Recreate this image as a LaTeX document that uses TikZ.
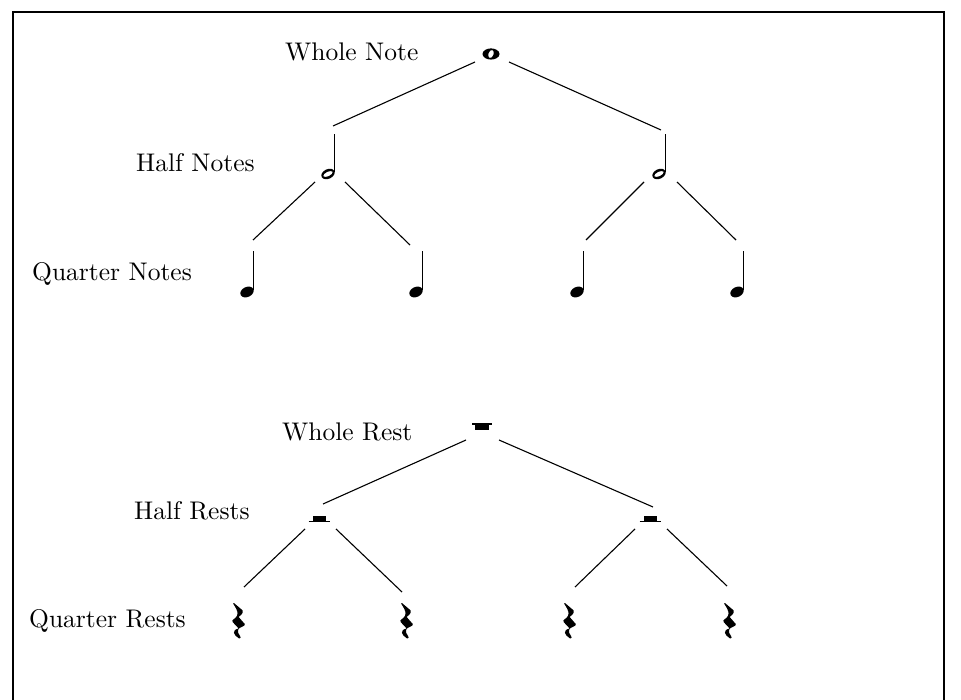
\documentclass[tikz,border=0pt]{standalone}
\usepackage{fontspec}
\newfontfamily\lblfont{lmroman10-regular.otf}
\begin{document}
\begin{tikzpicture}[x=1pt,y=-1pt,
  lbl/.style={anchor=base west,inner sep=0pt,font=\lblfont\fontsize{25.5}{30}\selectfont},
  branch/.style={line width=1.1pt},
  frame/.style={line width=2.8pt},
  stemline/.style={line width=1.3pt},
  wholenote/.pic={
    \fill[even odd rule] (0,0) ellipse [x radius=8.5,y radius=5.6]
      (0,0) ellipse [x radius=2.6,y radius=4.2,rotate=-20];
  },
  halfnote/.pic={
    \fill[even odd rule] (0,0) ellipse [x radius=7,y radius=4.8,rotate=25]
      (0,0) ellipse [x radius=5.2,y radius=2.3,rotate=25];
    \draw[stemline] (6.5,-1.5) -- (6.5,-40);
  },
  quarternote/.pic={
    \fill (0,0) ellipse [x radius=7,y radius=5,rotate=25];
    \draw[stemline] (6.5,-1.5) -- (6.5,-41);
  },
  wholerest/.pic={
    \draw[line width=1.3pt] (-10,0) -- (10,0);
    \fill (-7,0) rectangle (7,5.5);
  },
  halfrest/.pic={
    \draw[line width=1.3pt] (-10.5,0) -- (10.5,0);
    \fill (-6.5,0) rectangle (6.5,-6);
  },
  quarterrest/.pic={
    \fill[xscale=1.35] (-3,0) -- (3.5,7.5)
      .. controls (4.5,9) and (3,11) .. (0.5,14)
      -- (5,21)
      .. controls (5.5,22) and (4.5,23) .. (3,23.8)
      .. controls (0,25) and (-1.5,28) .. (1.5,33)
      .. controls (2.5,34.5) and (2,35.5) .. (0.8,35.5)
      .. controls (-3.5,32) and (-5,27) .. (0.5,25.5)
      -- (-4,19)
      .. controls (-5,18) and (-4,17) .. (-2,15)
      .. controls (0,12) and (1,10) .. (-3.6,0.6)
      -- cycle;
  }]
\useasboundingbox (0,0) rectangle (961,700);

% open frame
\draw[frame] (13,700) -- (13,12) -- (944,12) -- (944,700);

% ---------- notes ----------
\node[lbl] (lwn) at (285,61) {Whole Note};
\node[lbl] (lhn) at (136,172) {Half Notes};
\node[lbl] (lqn) at (32,281) {Quarter Notes};

\pic at (491,54) {wholenote};
\pic at (328,174) {halfnote};
\pic at (659,174) {halfnote};
\pic at (247,292) {quarternote};
\pic at (416,292) {quarternote};
\pic at (577,292) {quarternote};
\pic at (737,292) {quarternote};

\coordinate (wn-l) at (475,62);
\coordinate (wn-r) at (509,62);
\coordinate (hn1-t) at (333,126);
\coordinate (hn2-t) at (661,130);
\coordinate (hn1-l) at (315,182);
\coordinate (hn1-r) at (345,182);
\coordinate (hn2-l) at (644,182);
\coordinate (hn2-r) at (677,182);
\coordinate (qn1-t) at (253,240);
\coordinate (qn2-t) at (410,245);
\coordinate (qn3-t) at (586,240);
\coordinate (qn4-t) at (736,240);

\draw[branch] (wn-l) -- (hn1-t);
\draw[branch] (wn-r) -- (hn2-t);
\draw[branch] (hn1-l) -- (qn1-t);
\draw[branch] (hn1-r) -- (qn2-t);
\draw[branch] (hn2-l) -- (qn3-t);
\draw[branch] (hn2-r) -- (qn4-t);

% ---------- rests ----------
\node[lbl] (lwr) at (282,440) {Whole Rest};
\node[lbl] (lhr) at (134,519) {Half Rests};
\node[lbl] (lqr) at (29,627) {Quarter Rests};

\pic at (482,424) {wholerest};
\pic at (319,521.5) {halfrest};
\pic at (650,521.5) {halfrest};
\pic at (238,603) {quarterrest};
\pic at (406,603) {quarterrest};
\pic at (569,603) {quarterrest};
\pic at (729,603) {quarterrest};

\coordinate (wr-l) at (466,440);
\coordinate (wr-r) at (499,440);
\coordinate (hr1-t) at (323,504);
\coordinate (hr2-t) at (653,507);
\coordinate (hr1-l) at (305,529);
\coordinate (hr1-r) at (336,529);
\coordinate (hr2-l) at (635,529);
\coordinate (hr2-r) at (667,529);
\coordinate (qr1-t) at (244,587);
\coordinate (qr2-t) at (402,592);
\coordinate (qr3-t) at (575,587);
\coordinate (qr4-t) at (727,586);

\draw[branch] (wr-l) -- (hr1-t);
\draw[branch] (wr-r) -- (hr2-t);
\draw[branch] (hr1-l) -- (qr1-t);
\draw[branch] (hr1-r) -- (qr2-t);
\draw[branch] (hr2-l) -- (qr3-t);
\draw[branch] (hr2-r) -- (qr4-t);
\end{tikzpicture}
\end{document}
